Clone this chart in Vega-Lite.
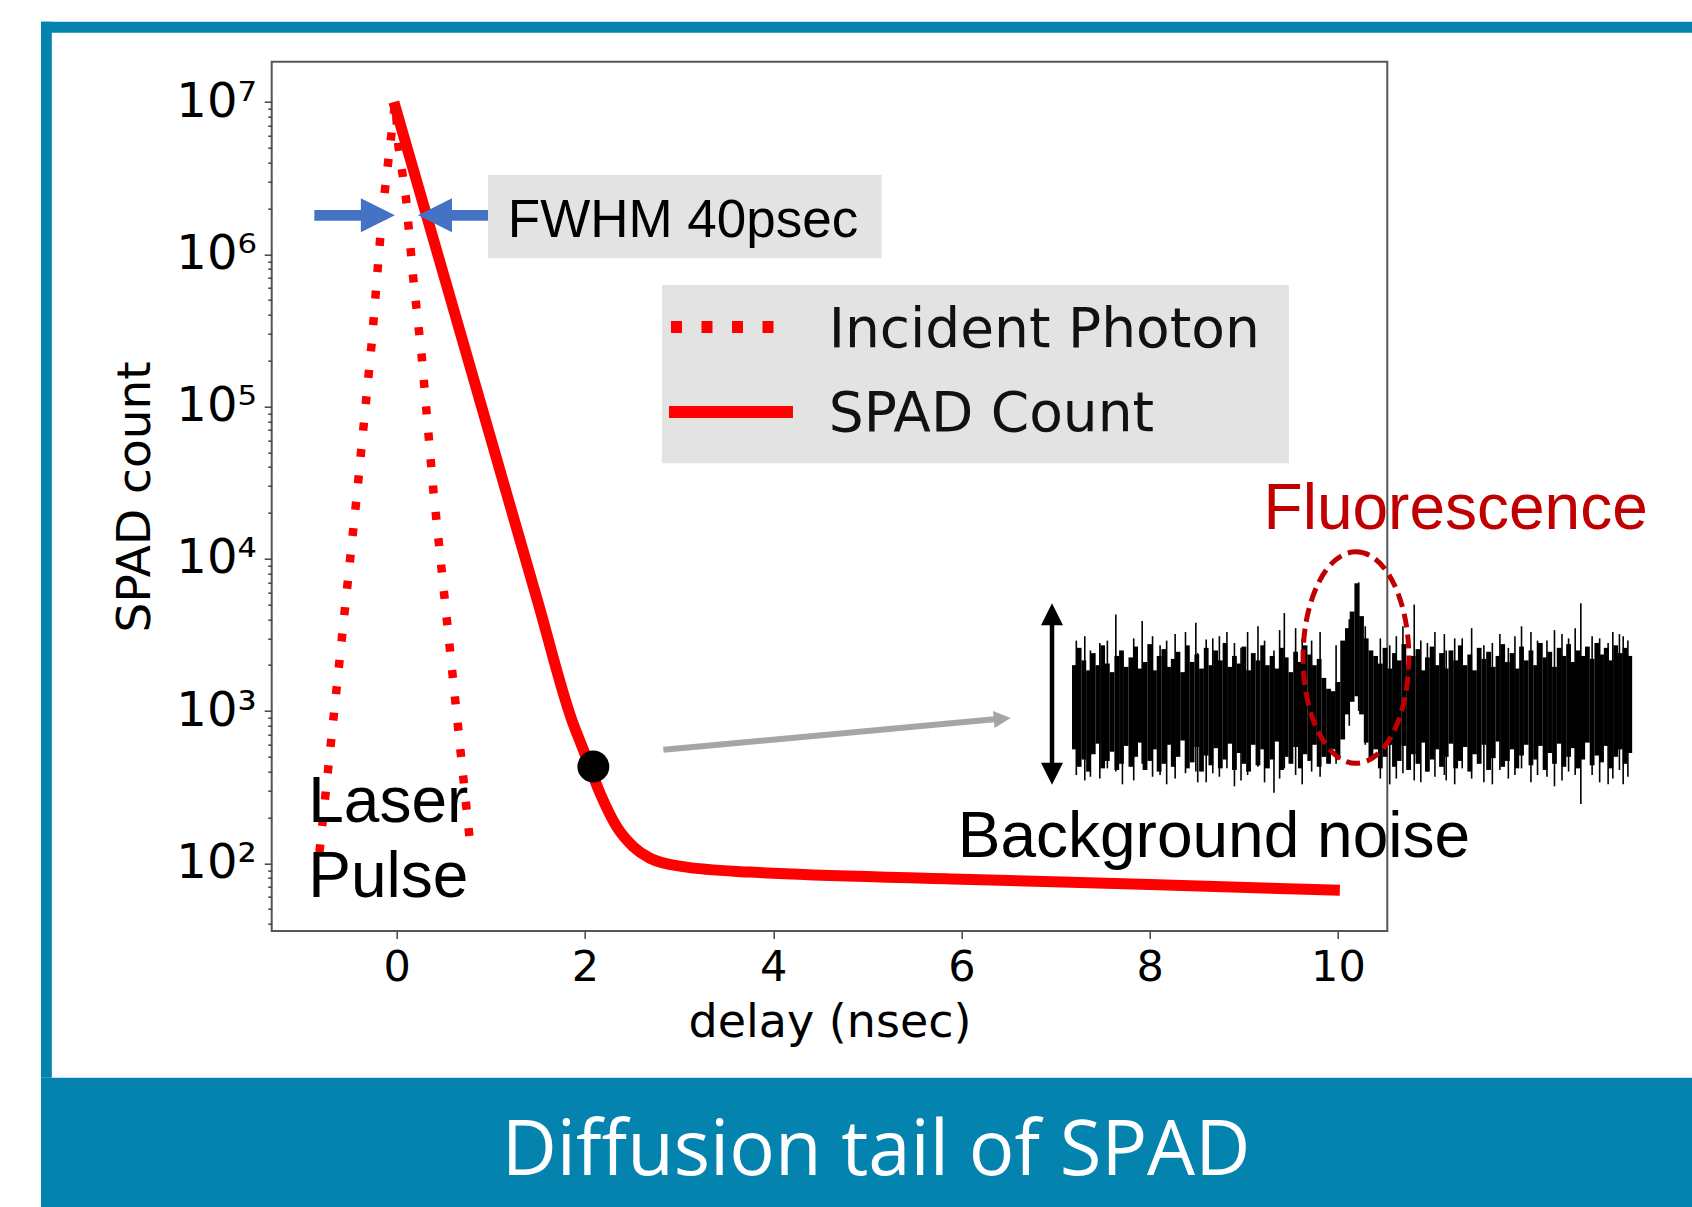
{
  "$schema": "https://vega.github.io/schema/vega-lite/v6.json",
  "width": 1115.6,
  "height": 869.3,
  "autosize": {"type": "none"},
  "padding": {"left": 271.7, "top": 61.7, "right": 304.7, "bottom": 276},
  "background": "white",
  "config": {
    "view": {"stroke": "#555555", "strokeWidth": 2}
  },
  "datasets": {
    "frame": [
      {"x": -3.779, "x2": 14, "y": 28530000, "y2": 33650000},
      {"x": -3.779, "x2": -3.664, "y": 3.9, "y2": 33650000},
      {"x": -3.779, "x2": 14, "y": 0.3, "y2": 3.904}
    ],
    "boxes": [
      {"x": 0.970, "x2": 5.152, "y": 942000, "y2": 3319000},
      {"x": 2.818, "x2": 9.479, "y": 42460, "y2": 628000}
    ],
    "incident": [
      {"o": 1, "x": -0.821, "y": 118},
      {"o": 2, "x": -0.425, "y": 25600},
      {"o": 3, "x": -0.266, "y": 260000},
      {"o": 4, "x": -0.177, "y": 1240000},
      {"o": 5, "x": -0.121, "y": 2800000},
      {"o": 6, "x": -0.053, "y": 6380000},
      {"o": 7, "x": -0.015, "y": 10000000},
      {"o": 8, "x": 0.017, "y": 5220000},
      {"o": 9, "x": 0.099, "y": 2330000},
      {"o": 10, "x": 0.176, "y": 695000},
      {"o": 11, "x": 0.266, "y": 213000},
      {"o": 12, "x": 0.389, "y": 28300},
      {"o": 13, "x": 0.772, "y": 151}
    ],
    "spad": [
      {"x": -0.03, "y": 10000000},
      {"x": 0.9, "y": 100700},
      {"x": 1.5, "y": 5190},
      {"x": 1.859, "y": 879},
      {"x": 1.982, "y": 558},
      {"x": 2.160, "y": 289},
      {"x": 2.337, "y": 174},
      {"x": 2.514, "y": 128.5},
      {"x": 2.691, "y": 107.9},
      {"x": 3.045, "y": 95},
      {"x": 3.75, "y": 87.5},
      {"x": 4.0, "y": 86},
      {"x": 6.0, "y": 78.5},
      {"x": 8.0, "y": 72.5},
      {"x": 10.02, "y": 66.4}
    ],
    "legDot": [{"x": 2.914, "y": 333400}, {"x": 4.120, "y": 333400}],
    "legSolid": [{"x": 2.893, "y": 92150}, {"x": 4.210, "y": 92150}],
    "dot": [{"x": 2.089, "y": 432}],
    "grayShaft": [{"x": 2.833, "y": 556, "x2": 6.35, "y2": 884}],
    "grayHead": [{"x": 6.433, "y": 890}],
    "blueShaft": [
      {"x": -0.875, "x2": -0.36, "y": 1803000},
      {"x": 0.58, "x2": 0.97, "y": 1803000}
    ],
    "blueHeadR": [{"x": -0.200, "y": 1803000}],
    "blueHeadL": [{"x": 0.407, "y": 1803000}],
    "dblShaft": [{"x": 6.962, "y": 387, "y2": 4325}],
    "dblUp": [{"x": 6.962, "y": 4325}],
    "dblDown": [{"x": 6.962, "y": 387}],
    "ellipse": [{"x": 10.191, "y": 2244}],
    "noise": [
      {"x": 7.20, "y": 560, "y2": 2000}, {"x": 7.25, "y": 430, "y2": 2600}, {"x": 7.30, "y": 480, "y2": 2150},
      {"x": 7.35, "y": 400, "y2": 1850}, {"x": 7.40, "y": 520, "y2": 2400}, {"x": 7.45, "y": 610, "y2": 2000},
      {"x": 7.50, "y": 420, "y2": 2700}, {"x": 7.55, "y": 470, "y2": 2050}, {"x": 7.60, "y": 540, "y2": 1800},
      {"x": 7.65, "y": 410, "y2": 2300}, {"x": 7.70, "y": 450, "y2": 2500}, {"x": 7.75, "y": 590, "y2": 1950},
      {"x": 7.80, "y": 430, "y2": 2250}, {"x": 7.85, "y": 500, "y2": 2650}, {"x": 7.90, "y": 620, "y2": 1900},
      {"x": 7.95, "y": 410, "y2": 2100}, {"x": 8.00, "y": 470, "y2": 2750}, {"x": 8.05, "y": 560, "y2": 1850},
      {"x": 8.10, "y": 400, "y2": 2300}, {"x": 8.15, "y": 450, "y2": 2550}, {"x": 8.20, "y": 600, "y2": 1950},
      {"x": 8.25, "y": 430, "y2": 2200}, {"x": 8.30, "y": 500, "y2": 2450}, {"x": 8.35, "y": 640, "y2": 1800},
      {"x": 8.40, "y": 420, "y2": 2700}, {"x": 8.45, "y": 460, "y2": 2100}, {"x": 8.50, "y": 580, "y2": 2350},
      {"x": 8.55, "y": 400, "y2": 1900}, {"x": 8.60, "y": 510, "y2": 2600}, {"x": 8.65, "y": 440, "y2": 2000},
      {"x": 8.70, "y": 570, "y2": 2500}, {"x": 8.75, "y": 420, "y2": 2150}, {"x": 8.80, "y": 480, "y2": 2800},
      {"x": 8.85, "y": 610, "y2": 1950}, {"x": 8.90, "y": 410, "y2": 2300}, {"x": 8.95, "y": 530, "y2": 2050},
      {"x": 9.00, "y": 450, "y2": 2650}, {"x": 9.05, "y": 400, "y2": 1850}, {"x": 9.10, "y": 600, "y2": 2400},
      {"x": 9.15, "y": 440, "y2": 2150}, {"x": 9.20, "y": 560, "y2": 2700}, {"x": 9.25, "y": 420, "y2": 2000},
      {"x": 9.30, "y": 480, "y2": 2300}, {"x": 9.35, "y": 630, "y2": 1900}, {"x": 9.40, "y": 410, "y2": 2600},
      {"x": 9.45, "y": 500, "y2": 2250}, {"x": 9.50, "y": 450, "y2": 1800}, {"x": 9.55, "y": 580, "y2": 2450},
      {"x": 9.60, "y": 420, "y2": 2100}, {"x": 9.65, "y": 520, "y2": 2700}, {"x": 9.70, "y": 470, "y2": 2350},
      {"x": 9.75, "y": 600, "y2": 2000}, {"x": 9.80, "y": 430, "y2": 2200}, {"x": 9.85, "y": 500, "y2": 1650},
      {"x": 9.90, "y": 450, "y2": 1400}, {"x": 9.95, "y": 560, "y2": 1350}, {"x": 10.00, "y": 480, "y2": 1550},
      {"x": 10.05, "y": 650, "y2": 2900}, {"x": 10.10, "y": 950, "y2": 3500}, {"x": 10.15, "y": 1150, "y2": 4500},
      {"x": 10.20, "y": 1250, "y2": 6900}, {"x": 10.25, "y": 950, "y2": 4200}, {"x": 10.30, "y": 620, "y2": 3000},
      {"x": 10.35, "y": 480, "y2": 2500}, {"x": 10.40, "y": 560, "y2": 2300}, {"x": 10.45, "y": 420, "y2": 2050},
      {"x": 10.50, "y": 500, "y2": 2600}, {"x": 10.55, "y": 600, "y2": 1900}, {"x": 10.60, "y": 430, "y2": 2400},
      {"x": 10.65, "y": 470, "y2": 2150}, {"x": 10.70, "y": 590, "y2": 2750}, {"x": 10.75, "y": 410, "y2": 2000},
      {"x": 10.80, "y": 520, "y2": 2300}, {"x": 10.85, "y": 450, "y2": 2550}, {"x": 10.90, "y": 620, "y2": 1850},
      {"x": 10.95, "y": 400, "y2": 2250}, {"x": 11.00, "y": 480, "y2": 2650}, {"x": 11.05, "y": 560, "y2": 2000},
      {"x": 11.10, "y": 430, "y2": 2400}, {"x": 11.15, "y": 500, "y2": 1900}, {"x": 11.20, "y": 610, "y2": 2500},
      {"x": 11.25, "y": 420, "y2": 2150}, {"x": 11.30, "y": 470, "y2": 2700}, {"x": 11.35, "y": 580, "y2": 2000},
      {"x": 11.40, "y": 400, "y2": 2350}, {"x": 11.45, "y": 520, "y2": 1850}, {"x": 11.50, "y": 450, "y2": 2600},
      {"x": 11.55, "y": 600, "y2": 2200}, {"x": 11.60, "y": 410, "y2": 2450}, {"x": 11.65, "y": 490, "y2": 1950},
      {"x": 11.70, "y": 630, "y2": 2300}, {"x": 11.75, "y": 430, "y2": 2750}, {"x": 11.80, "y": 470, "y2": 2100},
      {"x": 11.85, "y": 560, "y2": 2400}, {"x": 11.90, "y": 420, "y2": 1900}, {"x": 11.95, "y": 510, "y2": 2650},
      {"x": 12.00, "y": 600, "y2": 2150}, {"x": 12.05, "y": 440, "y2": 2500}, {"x": 12.10, "y": 480, "y2": 2000},
      {"x": 12.15, "y": 590, "y2": 2800}, {"x": 12.20, "y": 410, "y2": 2250}, {"x": 12.25, "y": 530, "y2": 2450},
      {"x": 12.30, "y": 450, "y2": 1950}, {"x": 12.35, "y": 610, "y2": 2600}, {"x": 12.40, "y": 430, "y2": 2300},
      {"x": 12.45, "y": 500, "y2": 2750}, {"x": 12.50, "y": 570, "y2": 2100}, {"x": 12.55, "y": 420, "y2": 2500},
      {"x": 12.60, "y": 480, "y2": 2300}, {"x": 12.65, "y": 620, "y2": 2650}, {"x": 12.70, "y": 440, "y2": 2200},
      {"x": 12.75, "y": 510, "y2": 2800}, {"x": 12.80, "y": 460, "y2": 2350}, {"x": 12.85, "y": 590, "y2": 2600},
      {"x": 12.90, "y": 420, "y2": 2150}, {"x": 12.95, "y": 500, "y2": 2700}, {"x": 13.00, "y": 560, "y2": 2400},
      {"x": 13.05, "y": 450, "y2": 2600}, {"x": 13.10, "y": 530, "y2": 2300}
    ],
    "spikes": [
      {"x": 7.22, "y": 380, "y2": 2900}, {"x": 7.31, "y": 350, "y2": 3100}, {"x": 7.37, "y": 370, "y2": 2500},
      {"x": 7.47, "y": 360, "y2": 2800}, {"x": 7.55, "y": 420, "y2": 2900}, {"x": 7.64, "y": 400, "y2": 4300},
      {"x": 7.71, "y": 330, "y2": 2300}, {"x": 7.83, "y": 350, "y2": 3000}, {"x": 7.92, "y": 450, "y2": 3900},
      {"x": 8.03, "y": 370, "y2": 3100}, {"x": 8.11, "y": 380, "y2": 2700}, {"x": 8.18, "y": 330, "y2": 2900},
      {"x": 8.27, "y": 360, "y2": 3200}, {"x": 8.38, "y": 390, "y2": 3300}, {"x": 8.49, "y": 400, "y2": 3800},
      {"x": 8.51, "y": 340, "y2": 2400}, {"x": 8.60, "y": 340, "y2": 2950}, {"x": 8.67, "y": 390, "y2": 3000},
      {"x": 8.74, "y": 370, "y2": 3100}, {"x": 8.82, "y": 420, "y2": 3300}, {"x": 8.90, "y": 320, "y2": 2800},
      {"x": 8.97, "y": 350, "y2": 2600}, {"x": 9.04, "y": 380, "y2": 3300}, {"x": 9.15, "y": 430, "y2": 3600},
      {"x": 9.22, "y": 340, "y2": 2900}, {"x": 9.32, "y": 290, "y2": 2500}, {"x": 9.38, "y": 360, "y2": 3400},
      {"x": 9.43, "y": 420, "y2": 4400}, {"x": 9.55, "y": 380, "y2": 3500}, {"x": 9.62, "y": 330, "y2": 3000},
      {"x": 9.72, "y": 400, "y2": 2900}, {"x": 9.81, "y": 370, "y2": 3300}, {"x": 9.98, "y": 450, "y2": 2700},
      {"x": 10.12, "y": 800, "y2": 4000}, {"x": 10.22, "y": 1000, "y2": 7000}, {"x": 10.29, "y": 600, "y2": 3600},
      {"x": 10.45, "y": 360, "y2": 3000}, {"x": 10.55, "y": 330, "y2": 2700}, {"x": 10.62, "y": 360, "y2": 3100},
      {"x": 10.69, "y": 390, "y2": 3600}, {"x": 10.81, "y": 350, "y2": 5000}, {"x": 10.88, "y": 340, "y2": 2900},
      {"x": 10.95, "y": 400, "y2": 2800}, {"x": 11.03, "y": 370, "y2": 3300}, {"x": 11.13, "y": 380, "y2": 3200},
      {"x": 11.15, "y": 350, "y2": 2500}, {"x": 11.24, "y": 330, "y2": 3000}, {"x": 11.32, "y": 420, "y2": 3000},
      {"x": 11.42, "y": 360, "y2": 3500}, {"x": 11.55, "y": 340, "y2": 2700}, {"x": 11.64, "y": 330, "y2": 2800},
      {"x": 11.72, "y": 410, "y2": 3200}, {"x": 11.81, "y": 360, "y2": 2600}, {"x": 11.88, "y": 380, "y2": 3100},
      {"x": 11.95, "y": 420, "y2": 3600}, {"x": 12.05, "y": 340, "y2": 3300}, {"x": 12.12, "y": 380, "y2": 2900},
      {"x": 12.22, "y": 370, "y2": 2900}, {"x": 12.30, "y": 320, "y2": 3400}, {"x": 12.38, "y": 350, "y2": 3200},
      {"x": 12.45, "y": 400, "y2": 3000}, {"x": 12.52, "y": 380, "y2": 3500}, {"x": 12.58, "y": 245, "y2": 5100},
      {"x": 12.70, "y": 380, "y2": 3100}, {"x": 12.78, "y": 340, "y2": 3000}, {"x": 12.87, "y": 330, "y2": 2800},
      {"x": 12.92, "y": 360, "y2": 3300}, {"x": 12.99, "y": 410, "y2": 3200}, {"x": 13.03, "y": 330, "y2": 3100},
      {"x": 13.08, "y": 370, "y2": 2900}
    ],
    "txtBlack": [
      {"x": -0.94, "y": 186.2, "text": "Laser"},
      {"x": -0.94, "y": 59.6, "text": "Pulse"},
      {"x": 5.96, "y": 109.6, "text": "Background noise"}
    ],
    "txtRed": [{"x": 9.21, "y": 15700, "text": "Fluorescence"}],
    "txtFwhm": [{"x": 1.18, "y": 1294000, "text": "FWHM 40psec"}],
    "txtLegend": [
      {"x": 4.59, "y": 244300, "text": "Incident Photon"},
      {"x": 4.59, "y": 68550, "text": "SPAD Count"}
    ],
    "txtBanner": [{"x": 5.092, "y": 0.9015, "text": "Diffusion tail of SPAD"}]
  },
  "encoding": {
    "x": {
      "field": "x", "type": "quantitative",
      "scale": {"domain": [-1.328, 10.524], "nice": false, "zero": false},
      "axis": {
        "title": "delay (nsec)", "values": [0, 2, 4, 6, 8, 10], "grid": false, "domain": false,
        "tickSize": 7.5, "tickWidth": 1.5, "tickColor": "#444444",
        "labelFont": "DejaVu Sans", "labelFontSize": 43, "labelColor": "#000000", "labelPadding": 8,
        "labelFlush": false, "labelOverlap": false,
        "titleFont": "DejaVu Sans", "titleFontSize": 46, "titleFontWeight": "normal", "titleColor": "#000000", "titlePadding": 11
      }
    },
    "y": {
      "field": "y", "type": "quantitative",
      "scale": {"type": "log", "domain": [35.89, 18410000], "nice": false},
      "axis": {
        "title": "SPAD count",
        "values": [40, 50, 60, 70, 80, 90, 100, 200, 300, 400, 500, 600, 700, 800, 900, 1000, 2000, 3000, 4000, 5000, 6000, 7000, 8000, 9000, 10000, 20000, 30000, 40000, 50000, 60000, 70000, 80000, 90000, 100000, 200000, 300000, 400000, 500000, 600000, 700000, 800000, 900000, 1000000, 2000000, 3000000, 4000000, 5000000, 6000000, 7000000, 8000000, 9000000, 10000000],
        "grid": false, "domain": false,
        "tickSize": {"condition": {"test": "abs(log(datum.value)/LN10 - round(log(datum.value)/LN10)) < 0.001", "value": 7.5}, "value": 4},
        "tickWidth": 1.5, "tickColor": "#444444",
        "labelExpr": "abs(log(datum.value)/LN10 - round(log(datum.value)/LN10)) < 0.001 ? '10' + ['⁰','¹','²','³','⁴','⁵','⁶','⁷','⁸','⁹'][round(log(datum.value)/LN10)] : ''",
        "labelFont": "DejaVu Sans", "labelFontSize": 48, "labelColor": "#000000", "labelPadding": 8,
        "labelFlush": false, "labelOverlap": false,
        "titleFont": "DejaVu Sans", "titleFontSize": 47, "titleFontWeight": "normal", "titleColor": "#000000", "titlePadding": 16
      }
    }
  },
  "layer": [
    {"data": {"name": "frame"}, "mark": {"type": "rect", "color": "#0583AF"},
     "encoding": {"x2": {"field": "x2"}, "y2": {"field": "y2"}}},
    {"data": {"name": "boxes"}, "mark": {"type": "rect", "color": "#E3E3E3"},
     "encoding": {"x2": {"field": "x2"}, "y2": {"field": "y2"}}},
    {"data": {"name": "incident"}, "mark": {"type": "line", "color": "#FF0000", "strokeWidth": 8.5, "strokeDash": [8, 18.5], "strokeCap": "butt"},
     "encoding": {"order": {"field": "o", "type": "quantitative"}}},
    {"data": {"name": "spad"}, "mark": {"type": "line", "color": "#FF0000", "strokeWidth": 11, "strokeCap": "butt", "strokeJoin": "round", "interpolate": "monotone"},
     "encoding": {}},
    {"data": {"name": "legDot"}, "mark": {"type": "line", "color": "#FF0000", "strokeWidth": 12, "strokeDash": [11, 19.5], "strokeCap": "butt"},
     "encoding": {}},
    {"data": {"name": "legSolid"}, "mark": {"type": "line", "color": "#FF0000", "strokeWidth": 12, "strokeCap": "butt"},
     "encoding": {}},
    {"data": {"name": "dot"}, "mark": {"type": "point", "shape": "circle", "filled": true, "color": "#000000", "opacity": 1, "size": 1018},
     "encoding": {}},
    {"data": {"name": "grayShaft"}, "mark": {"type": "rule", "color": "#A5A5A5", "strokeWidth": 6, "strokeCap": "butt"},
     "encoding": {"x2": {"field": "x2"}, "y2": {"field": "y2"}}},
    {"data": {"name": "grayHead"}, "mark": {"type": "point", "shape": "M-1,-1L1,0L-1,1Z", "filled": true, "color": "#A5A5A5", "opacity": 1, "size": 289, "angle": 354.8},
     "encoding": {}},
    {"data": {"name": "blueShaft"}, "mark": {"type": "rule", "color": "#4472C4", "strokeWidth": 10.7, "strokeCap": "butt"},
     "encoding": {"x2": {"field": "x2"}}},
    {"data": {"name": "blueHeadR"}, "mark": {"type": "point", "shape": "M-1,-1L1,0L-1,1Z", "filled": true, "color": "#4472C4", "opacity": 1, "size": 1156},
     "encoding": {}},
    {"data": {"name": "blueHeadL"}, "mark": {"type": "point", "shape": "M1,-1L-1,0L1,1Z", "filled": true, "color": "#4472C4", "opacity": 1, "size": 1156},
     "encoding": {}},
    {"data": {"name": "noise"}, "mark": {"type": "rule", "color": "#000000", "strokeWidth": 4.8, "strokeCap": "butt"},
     "encoding": {"y2": {"field": "y2"}}},
    {"data": {"name": "spikes"}, "mark": {"type": "rule", "color": "#000000", "strokeWidth": 1.6, "strokeCap": "butt"},
     "encoding": {"y2": {"field": "y2"}}},
    {"data": {"name": "dblShaft"}, "mark": {"type": "rule", "color": "#000000", "strokeWidth": 4.5, "strokeCap": "butt"},
     "encoding": {"y2": {"field": "y2"}}},
    {"data": {"name": "dblUp"}, "mark": {"type": "point", "shape": "M-1,1L0,-1L1,1Z", "filled": true, "color": "#000000", "opacity": 1, "size": 484},
     "encoding": {}},
    {"data": {"name": "dblDown"}, "mark": {"type": "point", "shape": "M-1,-1L0,1L1,-1Z", "filled": true, "color": "#000000", "opacity": 1, "size": 484},
     "encoding": {}},
    {"data": {"name": "ellipse"}, "mark": {"type": "point", "shape": "M0,-1A0.5,1 0 1,1 0,1A0.5,1 0 1,1 0,-1Z", "filled": false, "color": "#C00000", "opacity": 1, "size": 44775, "strokeWidth": 5, "strokeDash": [14, 7]},
     "encoding": {}},
    {"data": {"name": "txtBlack"}, "mark": {"type": "text", "align": "left", "baseline": "alphabetic", "font": "Liberation Sans", "fontSize": 64, "color": "#000000"},
     "encoding": {"text": {"field": "text"}}},
    {"data": {"name": "txtRed"}, "mark": {"type": "text", "align": "left", "baseline": "alphabetic", "font": "Liberation Sans", "fontSize": 64, "color": "#C00000"},
     "encoding": {"text": {"field": "text"}}},
    {"data": {"name": "txtFwhm"}, "mark": {"type": "text", "align": "left", "baseline": "alphabetic", "font": "Liberation Sans", "fontSize": 53, "color": "#000000"},
     "encoding": {"text": {"field": "text"}}},
    {"data": {"name": "txtLegend"}, "mark": {"type": "text", "align": "left", "baseline": "alphabetic", "font": "DejaVu Sans", "fontSize": 55, "color": "#111111"},
     "encoding": {"text": {"field": "text"}}},
    {"data": {"name": "txtBanner"}, "mark": {"type": "text", "align": "center", "baseline": "alphabetic", "font": "Open Sans", "fontSize": 76, "color": "#FFFFFF"},
     "encoding": {"text": {"field": "text"}}}
  ]
}
